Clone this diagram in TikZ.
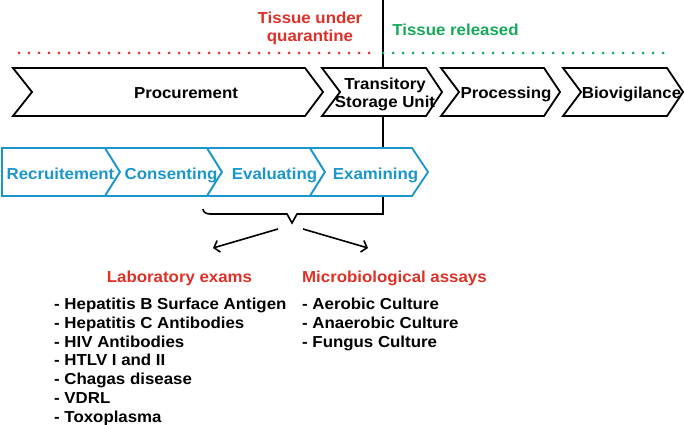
\documentclass[tikz,border=0pt]{standalone}
\usepackage{fontspec}
\setmainfont{Liberation Sans}[FakeStretch=1.06]
\usetikzlibrary{arrows.meta}
\definecolor{qred}{RGB}{222,48,38}
\definecolor{qgreen}{RGB}{22,168,90}
\definecolor{qblue}{RGB}{26,150,204}
\tikzset{
  txt/.style={inner sep=0pt, font=\fontsize{15.9}{18}\selectfont\bfseries, align=center, anchor=base},
  lft/.style={txt, anchor=base west},
  blk/.style={draw=black, line width=1.8pt, fill=white, line join=miter},
  blu/.style={draw=qblue, line width=1.8pt, fill=white, line join=miter},
  dots/.style={line width=3pt, dash pattern=on 0pt off 10pt, line cap=round},
  arr/.style={line width=1.6pt, -{Straight Barb[length=5pt,width=12pt,line width=1.6pt]}}
}
\begin{document}
\begin{tikzpicture}[x=1pt,y=-1pt]
\useasboundingbox (0,0) rectangle (685,425);
% vertical divider with bracket
\draw[line width=1.6pt, line join=miter] (383,0) -- (383,214) -- (297,214) -- (292,223) -- (287,214) -- (210,214) to[out=180,in=-90] (203,209);
% dotted lines
\draw[dots, qred] (19,53) -- (378,53);
\draw[dots, qgreen] (383,53) -- (666,53);
% top texts
\node[txt, qred] (quar) at (310,42) {Tissue under\\quarantine};
\node[txt, qgreen] (rel) at (455.5,36) {Tissue released};
% black chevrons
\draw[blk] (13,68) -- (305,68) -- (323,92) -- (305,116) -- (13,116) -- (32,92) -- cycle;
\draw[blk] (322,68) -- (426,68) -- (442,92) -- (426,116) -- (322,116) -- (340,92) -- cycle;
\draw[blk] (441,68) -- (544,68) -- (560,92) -- (544,116) -- (441,116) -- (459,92) -- cycle;
\draw[blk] (563,68) -- (667,68) -- (683,92) -- (667,116) -- (563,116) -- (581,92) -- cycle;
\node[txt] (proc) at (186,99) {Procurement};
\node[txt] (tsu) at (385,108) {Transitory\\Storage Unit};
\node[txt] (pros) at (506,99) {Processing};
\node[txt] (bio) at (631.5,99) {Biovigilance};
% blue chevrons
\draw[blu] (2,148) -- (105,148) -- (120,172) -- (105,196) -- (2,196) -- cycle;
\draw[blu] (105,148) -- (207,148) -- (222,172) -- (207,196) -- (105,196) -- (120,172) -- cycle;
\draw[blu] (207,148) -- (310,148) -- (325,172) -- (310,196) -- (207,196) -- (222,172) -- cycle;
\draw[blu] (310,148) -- (412,148) -- (428,172) -- (412,196) -- (310,196) -- (325,172) -- cycle;
\node[txt, qblue] (rec) at (60.5,179) {Recruitement};
\node[txt, qblue] (con) at (171,179) {Consenting};
\node[txt, qblue] (eva) at (274.5,179) {Evaluating};
\node[txt, qblue] (exa) at (375.5,179) {Examining};
% arrows
\coordinate (a1s) at (278,229);
\coordinate (a1e) at (213,248);
\coordinate (a2s) at (303,229);
\coordinate (a2e) at (368,248);
\draw[arr] (a1s) -- (a1e);
\draw[arr] (a2s) -- (a2e);
% headings
\node[txt, qred] (lab) at (179.5,282.5) {Laboratory exams};
\node[lft, qred] (mic) at (302,282.5) {Microbiological assays};
% lists
\node[lft] (l1) at (54,309.5) {- Hepatitis B Surface Antigen};
\node[lft] (l2) at (54,328.3) {- Hepatitis C Antibodies};
\node[lft] (l3) at (54,347.1) {- HIV Antibodies};
\node[lft] (l4) at (54,365.9) {- HTLV I and II};
\node[lft] (l5) at (54,384.7) {- Chagas disease};
\node[lft] (l6) at (54,403.5) {- VDRL};
\node[lft] (l7) at (54,422.3) {- Toxoplasma};
\node[lft] (m1) at (302,309.5) {- Aerobic Culture};
\node[lft] (m2) at (302,328.3) {- Anaerobic Culture};
\node[lft] (m3) at (302,347.1) {- Fungus Culture};
\end{tikzpicture}
\end{document}
